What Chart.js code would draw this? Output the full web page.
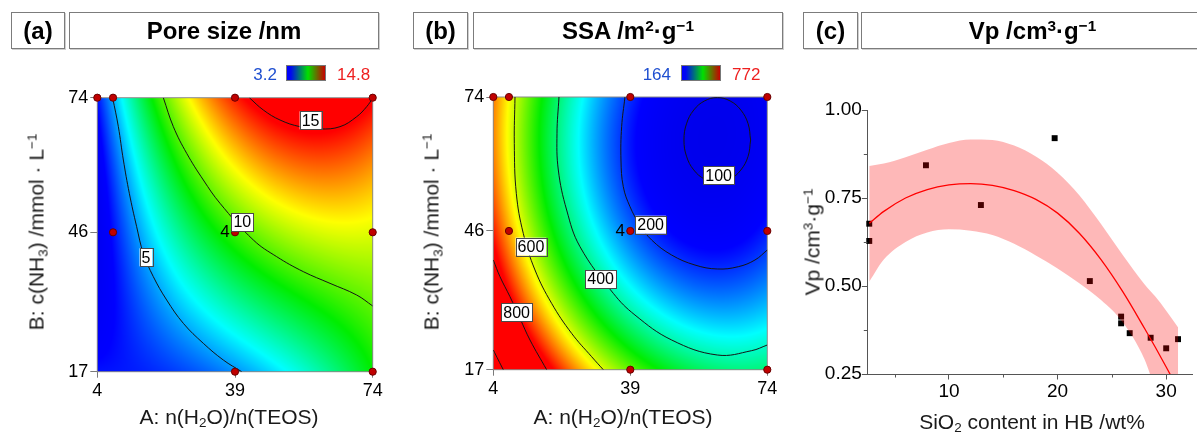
<!DOCTYPE html>
<html>
<head>
<meta charset="utf-8">
<script src="https://cdn.jsdelivr.net/npm/chart.js@4/dist/chart.umd.min.js"></script>
<style>
  html,body{margin:0;padding:0;background:#fff;}
  body{width:1197px;height:432px;position:relative;overflow:hidden;font-family:"Liberation Sans",Arial,sans-serif;color:#111;}
  canvas{position:absolute;top:0;}
  .box{position:absolute;top:12px;height:37px;box-sizing:border-box;border:1px solid #7c7c7c;box-shadow:1px 1px 0 #cfcfcf;
       display:flex;align-items:center;justify-content:center;font-weight:bold;font-size:24px;color:#000;white-space:nowrap;line-height:1;}
  .c{position:absolute;transform:translate(-50%,-50%);white-space:nowrap;line-height:1;font-size:21px;color:#1a1a1a;}
  .r{transform:translate(-50%,-50%) rotate(-90deg);}
  sub{font-size:0.64em;line-height:0;vertical-align:-0.28em;}
  sup{font-size:0.64em;line-height:0;vertical-align:0.55em;}
  .cb{position:absolute;top:65px;width:40px;height:16px;box-sizing:border-box;border:1px solid #777;
      background:linear-gradient(to right,#0000ff 0%,#0008f0 10%,#00e000 55%,#c80000 100%);}
  .lo{position:absolute;top:74px;transform:translate(-100%,-50%);font-size:17px;color:#1f4fd0;line-height:1;}
  .hi{position:absolute;top:74px;transform:translate(0,-50%);font-size:17px;color:#ee1f1f;line-height:1;}
</style>
</head>
<body>
<canvas id="ca" width="400" height="432" style="left:0px"></canvas>
<canvas id="cb" width="400" height="432" style="left:400px"></canvas>
<canvas id="cc" width="397" height="432" style="left:800px"></canvas>

<div class="box" style="left:11px;width:54px"><span>(a)</span></div>
<div class="box" style="left:69px;width:310px"><span>Pore size /nm</span></div>
<div class="box" style="left:413px;width:55px"><span>(b)</span></div>
<div class="box" style="left:473px;width:310px"><span>SSA /m<sup>2</sup>·g<sup>−1</sup></span></div>
<div class="box" style="left:803px;width:55px"><span>(c)</span></div>
<div class="box" style="left:861px;width:343px"><span>Vp /cm<sup>3</sup>·g<sup>−1</sup></span></div>

<div class="cb" style="left:286px"></div>
<div class="lo" style="left:277px">3.2</div>
<div class="hi" style="left:337px">14.8</div>
<div class="cb" style="left:681px"></div>
<div class="lo" style="left:671px">164</div>
<div class="hi" style="left:732px">772</div>

<div class="c" style="left:229px;top:416px">A: n(H<sub>2</sub>O)/n(TEOS)</div>
<div class="c r" style="left:36px;top:232px">B: c(NH<sub>3</sub>) /mmol · L<sup>−1</sup></div>
<div class="c" style="left:623px;top:416px">A: n(H<sub>2</sub>O)/n(TEOS)</div>
<div class="c r" style="left:431px;top:232px">B: c(NH<sub>3</sub>) /mmol · L<sup>−1</sup></div>
<div class="c" style="left:1032px;top:421px">SiO<sub>2</sub> content in HB /wt%</div>
<div class="c r" style="left:812px;top:242px">Vp /cm<sup>3</sup>·g<sup>−1</sup></div>

<script>
// ================= DATA =================
// response-surface values read at the grid nodes (rows: B = 17, 45.5, 74 ; cols: A = 4, 39, 74)
const gridA = [4, 39, 74];
const gridB = [17, 45.5, 74];
const poreSizeGrid = [
  [3.4, 4.85, 9.0],
  [2.23, 9.57, 11.5],
  [3.36, 14.45, 15.0]
];
const ssaGrid = [
  [1051, 528, 398],
  [760, 231, 183],
  [701, 191, 130]
];
const xTicksAB = [4, 39, 74];
const yTicksAB = [17, 46, 74];
// design points
const designA = [4, 8, 39, 74, 8, 39, 74, 39, 74];
const designB = [74, 74, 74, 74, 46, 46, 46, 17, 17];

// contour lines (A, B)
const pore5  = [[7.9,74],[9.35,67.97],[10.62,61.04],[12.14,54.11],[14.0,47.17],[15.7,41.62],[18.24,36.77],[21.63,31.92],[25.87,27.06],[30.95,22.9],[36.03,19.43],[40.7,17]];
const pore10 = [[20.78,74],[23.33,67.97],[26.72,62.43],[30.95,56.88],[35.19,52.03],[43.66,44.4],[49.59,40.93],[56.37,37.81],[63.15,35.38],[69.93,32.95],[74,30.67]];
const pore15 = [[42.64,74],[46.2,71.44],[50.44,69.36],[55.52,67.97],[60.61,67.49],[65.69,67.97],[69.93,70.05],[72.47,72.13],[74,73.9]];

const ssa100  = [[69.74,65.01],[69.10,61.62],[67.25,58.75],[64.49,56.84],[61.23,56.16],[57.97,56.84],[55.21,58.75],[53.36,61.62],[52.71,65.01],[53.36,68.40],[55.21,71.27],[57.97,73.18],[61.23,73.86],[64.49,73.18],[67.25,71.27],[69.10,68.40],[69.74,65.01]];
const ssa200  = [[37.64,74],[36.79,67.80],[36.62,60.83],[37.21,55.26],[38.92,51.08],[41.47,47.24],[44.45,44.11],[49.56,40.97],[55.52,38.88],[61.23,38.05],[66.59,38.53],[70.85,39.93],[74,42.02]];
const ssa400  = [[20.78,74],[20.27,66.40],[20.61,58.74],[22.74,50.38],[26.14,42.72],[34.66,32.96],[40.19,28.43],[49.56,23.21],[61.23,20.07],[70.0,20.98],[74,22.16]];
const ssa600  = [[9.54,74],[9.37,64.31],[9.88,53.86],[11.66,45.5],[14.65,37.84],[18.9,30.87],[24.01,24.6],[29.12,19.72],[32.1,17]];
const ssa800  = [[4,39.93],[5.70,36.45],[8.26,32.26],[10.81,27.74],[13.37,23.21],[17.63,17]];
const ssa1000 = [[4,21.12],[5.28,19.03],[6.55,17]];

// contour labels (annotation anchors in data units)
const poreLabels = [{t:'5',a:16.38,b:40.8},{t:'10',a:40.86,b:48.14},{t:'15',a:58.2,b:69.3}];
const ssaLabels  = [{t:'100',a:61.57,b:57.62},{t:'200',a:44.2,b:47.31},{t:'400',a:31.42,b:35.96},{t:'600',a:13.62,b:42.72},{t:'800',a:9.96,b:28.99}];

// panel (c)
const sio2 = [2.66, 2.66, 7.88, 12.94, 19.73, 22.97, 25.85, 25.85, 26.64, 28.57, 30.0, 31.09];
const vp   = [0.677, 0.628, 0.843, 0.730, 0.920, 0.514, 0.413, 0.394, 0.366, 0.353, 0.323, 0.349];
const fitX = [2.66, 4, 6, 8, 10, 12, 14, 16, 18, 20, 22, 24, 26, 28, 29, 30, 31];
const fitY = [0.678, 0.712, 0.750, 0.774, 0.787, 0.791, 0.786, 0.771, 0.746, 0.707, 0.650, 0.575, 0.484, 0.380, 0.326, 0.270, 0.212];
const bandX = [2.66, 4, 6, 8, 10, 12, 14, 16, 18, 20, 22, 24, 26, 28, 29, 30, 31.1];
const bandUpper = [0.841, 0.848, 0.866, 0.887, 0.906, 0.916, 0.915, 0.899, 0.868, 0.822, 0.758, 0.676, 0.588, 0.505, 0.470, 0.430, 0.382];
const bandLower = [0.512, 0.575, 0.625, 0.652, 0.661, 0.657, 0.645, 0.620, 0.587, 0.550, 0.508, 0.460, 0.397, 0.292, 0.205, 0.118, 0.02];
const xTicksC = [10, 20, 30];
const xMinorC = [5, 15, 25];
const yTicksC = [0.25, 0.50, 0.75, 1.00];
const yMinorC = [0.375, 0.625, 0.875];

// ================= RENDER =================
Chart.defaults.font.family = '"Liberation Sans", Arial, sans-serif';
Chart.defaults.color = '#000';

function lagr(n, v) {
  const [a, b, c] = n;
  return [(v-b)*(v-c)/((a-b)*(a-c)), (v-a)*(v-c)/((b-a)*(b-c)), (v-a)*(v-b)/((c-a)*(c-b))];
}
function surface(grid, x, y) {
  const lx = lagr(gridA, x), ly = lagr(gridB, y);
  let s = 0;
  for (let j = 0; j < 3; j++) for (let i = 0; i < 3; i++) s += grid[j][i] * lx[i] * ly[j];
  return s;
}
function rainbow(t) {
  if (t < 0) return [0, 0, Math.max(228, 255 + 160 * t)];
  if (t > 1) t = 1;
  const st = [[0,0,255],[0,255,255],[0,238,0],[255,255,0],[255,0,0]];
  const s = t * 4, i = Math.min(3, Math.floor(s)), f = s - i;
  return [0,1,2].map(k => st[i][k] + (st[i+1][k] - st[i][k]) * f);
}

const heatPlugin = {
  id: 'heat',
  beforeDatasetsDraw(chart, args, opts) {
    if (!opts || !opts.grid) return;
    const {left, top, right, bottom} = chart.chartArea;
    const w = Math.round(right - left), h = Math.round(bottom - top);
    const off = document.createElement('canvas');
    off.width = w; off.height = h;
    const octx = off.getContext('2d');
    const img = octx.createImageData(w, h);
    const xs = chart.scales.x, ys = chart.scales.y;
    for (let j = 0; j < h; j++) {
      const yv = ys.getValueForPixel(top + (j + 0.5) * (bottom - top) / h);
      for (let i = 0; i < w; i++) {
        const xv = xs.getValueForPixel(left + (i + 0.5) * (right - left) / w);
        const v = surface(opts.grid, xv, yv);
        const c = rainbow((v - opts.min) / (opts.max - opts.min));
        const k = (j * w + i) * 4;
        img.data[k] = c[0]; img.data[k+1] = c[1]; img.data[k+2] = c[2]; img.data[k+3] = 255;
      }
    }
    octx.putImageData(img, 0, 0);
    const ctx = chart.ctx;
    ctx.save();
    ctx.drawImage(off, left, top, right - left, bottom - top);
    ctx.strokeStyle = '#8a8a8a'; ctx.lineWidth = 1;
    ctx.strokeRect(left, top, right - left, bottom - top);
    ctx.restore();
  }
};

const labelPlugin = {
  id: 'clabels',
  afterDatasetsDraw(chart, args, opts) {
    if (!opts || !opts.items) return;
    const ctx = chart.ctx, xs = chart.scales.x, ys = chart.scales.y;
    ctx.save();
    ctx.font = '16px "Liberation Sans", Arial, sans-serif';
    ctx.textAlign = 'center'; ctx.textBaseline = 'middle';
    for (const it of opts.items) {
      const px = xs.getPixelForValue(it.a), py = ys.getPixelForValue(it.b);
      const w = ctx.measureText(it.t).width + 4, h = 18;
      ctx.fillStyle = '#fff';
      ctx.fillRect(px - w/2, py - h/2, w, h);
      ctx.strokeStyle = '#4a4a4a'; ctx.lineWidth = 1;
      ctx.strokeRect(Math.round(px - w/2) + 0.5, Math.round(py - h/2) + 0.5, Math.round(w), h);
      ctx.fillStyle = '#000';
      ctx.fillText(it.t, px, py + 1);
    }
    // replicate count at the centre point
    if (opts.center) {
      const px = xs.getPixelForValue(opts.center[0]) - 10, py = ys.getPixelForValue(opts.center[1]);
      ctx.font = '17px "Liberation Sans", Arial, sans-serif';
      ctx.fillText(opts.center[2], px, py);
    }
    ctx.restore();
  }
};

function axisAB(ticksArr, isX, size) {
  return {
    type: 'linear',
    min: isX ? 4 : 17, max: 74,
    afterBuildTicks: s => { s.ticks = ticksArr.map(v => ({value: v})); },
    afterFit: s => { if (isX) s.height = size; else s.width = size; },
    grid: {display: true, drawOnChartArea: false, drawTicks: true, tickLength: isX ? 6 : 7, tickColor: '#7a7a7a', tickWidth: 1},
    border: {display: true, color: '#8a8a8a', width: 1},
    ticks: {color: '#000', font: {size: 18}, padding: isX ? 3 : 2, autoSkip: false, maxRotation: 0, callback: v => String(v)}
  };
}

function contourChart(id, grid, vmin, vmax, lines, labels, pad) {
  const datasets = lines.map(l => ({
    data: l.map(p => ({x: p[0], y: p[1]})),
    showLine: true, borderColor: '#151515', borderWidth: 1, pointRadius: 0, tension: 0.4, fill: false, order: 2
  }));
  datasets.push({
    data: designA.map((a, i) => ({x: a, y: designB[i]})),
    showLine: false, pointRadius: 3.6, pointBackgroundColor: '#c00000', pointBorderColor: '#6a0000',
    pointBorderWidth: 1, order: 0, clip: false
  });
  new Chart(document.getElementById(id), {
    type: 'scatter',
    data: {datasets},
    options: {
      responsive: false, animation: false, devicePixelRatio: 1, events: [],
      layout: {padding: pad},
      plugins: {
        legend: {display: false}, tooltip: {enabled: false},
        heat: {grid, min: vmin, max: vmax},
        clabels: {items: labels, center: [39, 46, '4']}
      },
      scales: {x: axisAB(xTicksAB, true, 30), y: axisAB(yTicksAB, false, 40)}
    },
    plugins: [heatPlugin, labelPlugin]
  });
}

contourChart('ca', poreSizeGrid, 3.2, 14.8, [pore5, pore10, pore15], poreLabels,
  {left: 57.3, right: 27.3, top: 97.7, bottom: 30.3});
contourChart('cb', ssaGrid, 164, 772, [ssa100, ssa200, ssa400, ssa600, ssa800, ssa1000], ssaLabels,
  {left: 53.3, right: 32.7, top: 97, bottom: 32.3});

// panel (c)
const minorPlugin = {
  id: 'minor',
  afterDraw(chart) {
    const ctx = chart.ctx, xs = chart.scales.x, ys = chart.scales.y, a = chart.chartArea;
    ctx.save();
    ctx.strokeStyle = '#555'; ctx.lineWidth = 1;
    ctx.beginPath();
    for (const v of xMinorC) { const p = Math.round(xs.getPixelForValue(v)) + 0.5; ctx.moveTo(p, a.bottom); ctx.lineTo(p, a.bottom + 3.5); }
    for (const v of yMinorC) { const p = Math.round(ys.getPixelForValue(v)) + 0.5; ctx.moveTo(a.left, p); ctx.lineTo(a.left - 3.5, p); }
    ctx.stroke();
    ctx.restore();
  }
};

new Chart(document.getElementById('cc'), {
  type: 'scatter',
  data: {
    datasets: [
      {data: sio2.map((x, i) => ({x, y: vp[i]})), showLine: false, pointStyle: 'rect', pointRadius: 4.2,
       pointBackgroundColor: '#000', pointBorderWidth: 0, order: 5, clip: false},
      {data: bandX.map((x, i) => ({x, y: bandUpper[i]})), showLine: true, borderWidth: 0, borderColor: 'rgba(0,0,0,0)',
       pointRadius: 0, cubicInterpolationMode: 'monotone', fill: '+1', backgroundColor: 'rgba(250,0,0,0.28)', order: 4},
      {data: bandX.map((x, i) => ({x, y: bandLower[i]})), showLine: true, borderWidth: 0, borderColor: 'rgba(0,0,0,0)',
       pointRadius: 0, cubicInterpolationMode: 'monotone', fill: false, order: 3},
      {data: fitX.map((x, i) => ({x, y: fitY[i]})), showLine: true, borderColor: '#ff0000', borderWidth: 1.3,
       pointRadius: 0, cubicInterpolationMode: 'monotone', fill: false, order: 1}
    ]
  },
  options: {
    responsive: false, animation: false, devicePixelRatio: 1, events: [],
    layout: {padding: {left: 17.3, right: 0, top: 110, bottom: 28}},
    plugins: {legend: {display: false}, tooltip: {enabled: false}},
    scales: {
      x: {
        type: 'linear', min: 2.48, max: 32.45,
        afterBuildTicks: s => { s.ticks = xTicksC.map(v => ({value: v})); },
        afterFit: s => { s.height = 30; },
        grid: {display: true, drawOnChartArea: false, tickLength: 5.5, tickColor: '#555'},
        border: {display: true, color: '#555', width: 1},
        ticks: {color: '#000', font: {size: 19}, padding: 1, autoSkip: false, maxRotation: 0, callback: v => String(v)}
      },
      y: {
        type: 'linear', min: 0.25, max: 1.0,
        afterBuildTicks: s => { s.ticks = yTicksC.map(v => ({value: v})); },
        afterFit: s => { s.width = 50; },
        grid: {display: true, drawOnChartArea: false, tickLength: 5.5, tickColor: '#555'},
        border: {display: true, color: '#555', width: 1},
        ticks: {color: '#000', font: {size: 19}, padding: 0, autoSkip: false, callback: v => Number(v).toFixed(2)}
      }
    }
  },
  plugins: [minorPlugin]
});
</script>
</body>
</html>
